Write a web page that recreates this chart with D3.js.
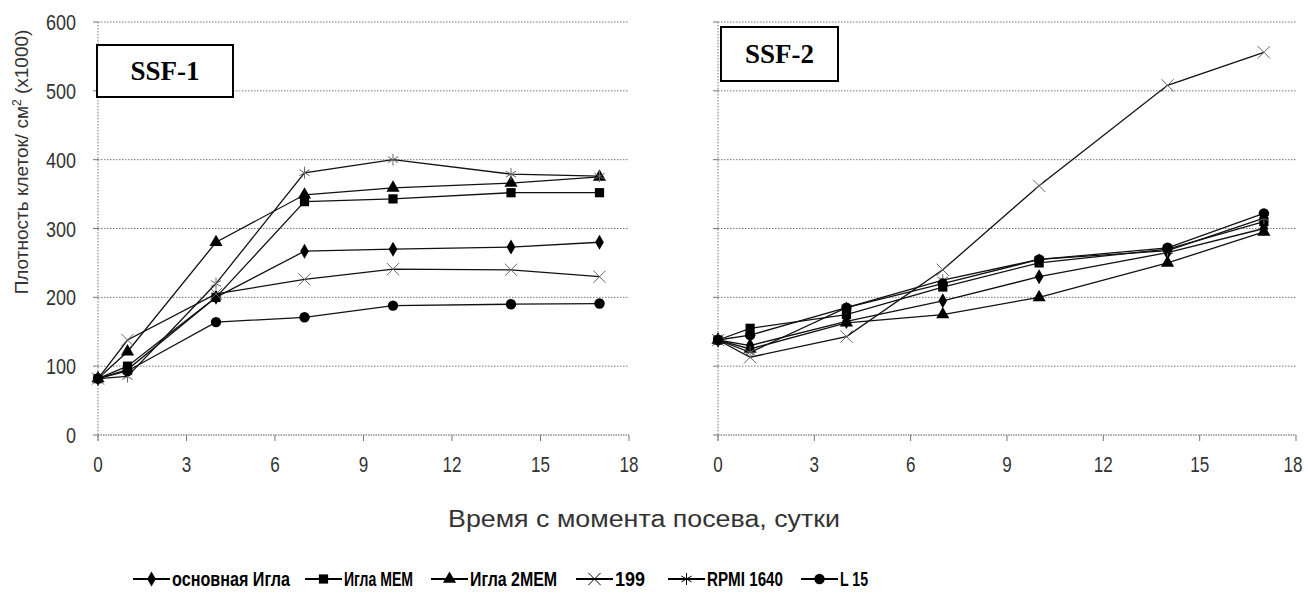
<!DOCTYPE html>
<html>
<head>
<meta charset="utf-8">
<script src="https://cdnjs.cloudflare.com/ajax/libs/d3/7.8.5/d3.min.js"></script>
<style>
  body { margin: 0; background: #fff; }
  svg { display: block; }
  .tick-label { font-family: "Liberation Sans", Arial, sans-serif; font-size: 22px; fill: #333; }
  .axis-title { font-family: "Liberation Sans", Arial, sans-serif; fill: #333; }
  .legend-text { font-family: "Liberation Sans", Arial, sans-serif; font-weight: bold; font-size: 20px; fill: #000; }
  .panel-name { font-family: "Liberation Serif", "Times New Roman", serif; font-weight: bold; font-size: 27px; }
</style>
</head>
<body>
<svg width="1308" height="603"></svg>
<script>
// days after seeding
var days = [0, 1, 4, 7, 10, 14, 17];
var seriesNames = ["основная Игла", "Игла MEM", "Игла 2MEM", "199", "RPMI 1640", "L 15"];
var seriesSymbols = ["diamond", "square", "triangle", "times", "asterisk", "circle"];

// SSF-1 cell density (x1000 / cm2)
var ssf1Basic = [82, 95, 200, 267, 270, 273, 280];
var ssf1Mem = [82, 100, 200, 339, 343, 352, 352];
var ssf1Mem2 = [82, 121, 280, 349, 359, 366, 375];
var ssf1M199 = [82, 138, 205, 226, 241, 240, 230];
var ssf1Rpmi = [82, 85, 220, 381, 400, 379, 376];
var ssf1L15 = [82, 93, 164, 171, 188, 190, 191];

// SSF-2 cell density (x1000 / cm2)
var ssf2Basic = [138, 130, 165, 195, 230, 265, 300];
var ssf2Mem = [138, 155, 175, 215, 250, 270, 310];
var ssf2Mem2 = [138, 125, 163, 175, 200, 250, 295];
var ssf2M199 = [138, 113, 143, 240, 362, 508, 556];
var ssf2Rpmi = [138, 120, 185, 225, 255, 268, 315];
var ssf2L15 = [138, 145, 185, 220, 255, 272, 322];

var yTicks = [0, 100, 200, 300, 400, 500, 600];
var xTicks = [0, 3, 6, 9, 12, 15, 18];

var svg = d3.select("svg");

var y = d3.scaleLinear().domain([0, 600]).range([435, 22]);

var panels = [
  {name: "SSF-1", series: [ssf1Basic, ssf1Mem, ssf1Mem2, ssf1M199, ssf1Rpmi, ssf1L15], left: 98, right: 629, box: [97, 45, 136, 52], labels: true},
  {name: "SSF-2", series: [ssf2Basic, ssf2Mem, ssf2Mem2, ssf2M199, ssf2Rpmi, ssf2L15], left: 718, right: 1296, box: [721, 27, 117, 54], labels: false}
];

function symbolPath(kind) {
  var map = {
    diamond: [d3.symbolDiamond, 65],
    square: [d3.symbolSquare, 85],
    triangle: [d3.symbolTriangle, 75],
    times: [d3.symbolTimes, 100],
    asterisk: [d3.symbolAsterisk, 100],
    circle: [d3.symbolCircle, 85]
  };
  return d3.symbol().type(map[kind][0]).size(map[kind][1])();
}

function drawMarker(g, kind, cx, cy, dark) {
  var stroked = kind == "times" || kind == "asterisk";
  g.append("path")
    .attr("d", symbolPath(kind))
    .attr("transform", "translate(" + cx + "," + cy + ")")
    .attr("fill", stroked ? "none" : "#000")
    .attr("stroke", stroked ? (dark ? "#000" : "#666") : "none")
    .attr("stroke-width", stroked ? 1 : 0);
}

// narrow-looking text: squeeze glyphs to a given width per character
function narrow(sel, perChar) {
  sel.attr("textLength", function(d) { return String(d).length * perChar; })
    .attr("lengthAdjust", "spacingAndGlyphs");
}

panels.forEach(function(p) {
  var x = d3.scaleLinear().domain([0, 18]).range([p.left, p.right]);
  var g = svg.append("g");

  // gridlines
  g.selectAll(".grid").data(yTicks.slice(1)).enter().append("line")
    .attr("x1", p.left).attr("x2", p.right)
    .attr("y1", function(d) { return y(d); }).attr("y2", function(d) { return y(d); })
    .attr("stroke", "#777").attr("stroke-width", 1).attr("stroke-dasharray", "1.5,1.5");

  // y axis line and small ticks
  g.append("line").attr("x1", p.left).attr("x2", p.left).attr("y1", y(600)).attr("y2", y(0) + 6)
    .attr("stroke", "#777").attr("stroke-dasharray", "1.5,1.5");
  g.selectAll(".yt").data(yTicks).enter().append("line")
    .attr("x1", p.left - 5).attr("x2", p.left)
    .attr("y1", function(d) { return y(d); }).attr("y2", function(d) { return y(d); })
    .attr("stroke", "#777");

  // x axis line and ticks
  g.append("line").attr("x1", p.left).attr("x2", p.right).attr("y1", y(0)).attr("y2", y(0))
    .attr("stroke", "#555").attr("stroke-dasharray", "1.5,1");
  g.selectAll(".xt").data(xTicks).enter().append("line")
    .attr("x1", function(d) { return x(d); }).attr("x2", function(d) { return x(d); })
    .attr("y1", y(0)).attr("y2", y(0) + 6)
    .attr("stroke", "#777");

  // keep the last label inside the page
  g.selectAll(".xl").data(xTicks).enter().append("text")
    .attr("class", "tick-label")
    .attr("x", function(d) { return Math.min(x(d), 1293); })
    .attr("y", 472)
    .attr("text-anchor", "middle")
    .text(function(d) { return d; })
    .call(narrow, 9.5);

  if (p.labels) {
    g.selectAll(".yl").data(yTicks).enter().append("text")
      .attr("class", "tick-label")
      .attr("x", 76)
      .attr("y", function(d) { return y(d) + 8; })
      .attr("text-anchor", "end")
      .text(function(d) { return d; })
      .call(narrow, 10);
  }

  var line = d3.line()
    .x(function(d, i) { return x(days[i]); })
    .y(function(d) { return y(d); });

  p.series.forEach(function(vals) {
    g.append("path")
      .attr("d", line(vals))
      .attr("fill", "none")
      .attr("stroke", "#111")
      .attr("stroke-width", 1.3);
  });

  p.series.forEach(function(vals, si) {
    vals.forEach(function(v, i) {
      drawMarker(g, seriesSymbols[si], x(days[i]), y(v), false);
    });
  });

  // panel name box
  g.append("rect")
    .attr("x", p.box[0]).attr("y", p.box[1]).attr("width", p.box[2]).attr("height", p.box[3])
    .attr("fill", "#fff").attr("stroke", "#000").attr("stroke-width", 2);
  g.append("text")
    .attr("class", "panel-name")
    .attr("x", p.box[0] + p.box[2] / 2)
    .attr("y", p.box[1] + p.box[3] / 2 + 9)
    .attr("text-anchor", "middle")
    .text(p.name);
});

// axis titles
var yTitle = svg.append("text")
  .attr("class", "axis-title")
  .attr("transform", "translate(28,162) rotate(-90)")
  .attr("text-anchor", "middle")
  .style("font-size", "19px");
yTitle.append("tspan").text("Плотность клеток/ см");
yTitle.append("tspan").attr("dy", -7).style("font-size", "12px").text("2");
yTitle.append("tspan").attr("dy", 7).text(" (x1000)");

svg.append("text")
  .attr("class", "axis-title")
  .attr("x", 644).attr("y", 527)
  .attr("text-anchor", "middle")
  .style("font-size", "23px")
  .attr("textLength", 392)
  .attr("lengthAdjust", "spacingAndGlyphs")
  .text("Время с момента посева, сутки");

// legend
var legendX = [133, 305, 431, 576, 668, 801];
var legendW = [118, 69, 87, 30, 76, 28];
var legend = svg.append("g");
seriesNames.forEach(function(name, i) {
  var lx = legendX[i], ly = 579;
  legend.append("line")
    .attr("x1", lx).attr("x2", lx + 37).attr("y1", ly).attr("y2", ly)
    .attr("stroke", "#000").attr("stroke-width", 2);
  drawMarker(legend, seriesSymbols[i], lx + 18.5, ly, true);
  legend.append("text")
    .attr("class", "legend-text")
    .attr("x", lx + 39).attr("y", ly + 7)
    .attr("textLength", legendW[i])
    .attr("lengthAdjust", "spacingAndGlyphs")
    .text(name);
});
</script>
</body>
</html>
